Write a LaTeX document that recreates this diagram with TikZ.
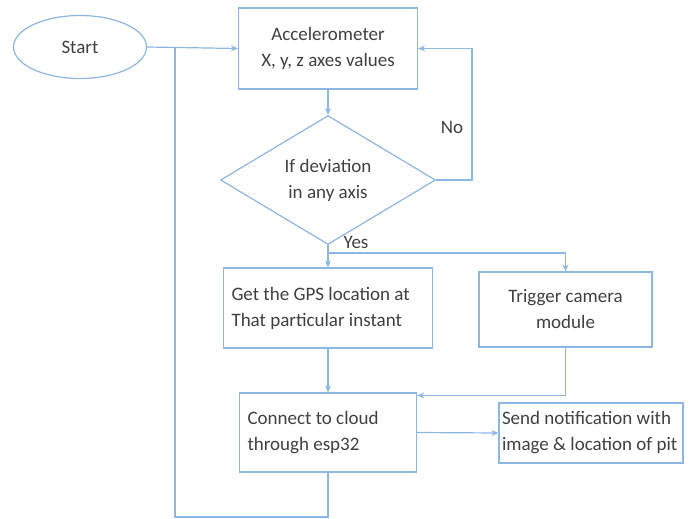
\documentclass[tikz,border=0pt]{standalone}
\usepackage{fontspec}
\setmainfont{Carlito}
\usetikzlibrary{shapes.geometric,arrows.meta}
\definecolor{lineblue}{HTML}{8DB6E2}
\definecolor{txt}{HTML}{404040}
\begin{document}
\begin{tikzpicture}[x=1pt,y=-1pt,
  every node/.style={font=\fontsize{19}{26}\selectfont, text=txt},
  box/.style={draw=lineblue, line width=1.2pt, rectangle, inner sep=0pt},
  arr/.style={draw=lineblue, line width=1.2pt, -{Stealth[length=7pt,width=6pt]}},
  ln/.style={draw=lineblue, line width=1.2pt}]
\useasboundingbox (0,0) rectangle (693,519);
\node[draw=lineblue, line width=1.2pt, ellipse, minimum width=133pt, minimum height=63pt, inner sep=0pt] (start) at (80,47) {Start};
\node[box, minimum width=179pt, minimum height=81pt, align=center] (acc) at (328,48.5) {Accelerometer\\X, y, z axes values};
\node[draw=lineblue, line width=1.2pt, diamond, minimum width=215pt, minimum height=100pt, inner sep=0pt, align=center] (dec) at (328,180) {If deviation\\in any axis};
\node[box, minimum width=209pt, minimum height=80pt, text width=193pt, align=flush left] (gps) at (328,308) {Get the GPS location at\\That particular instant};
\node[box, minimum width=173pt, minimum height=75pt, align=center] (cam) at (565.5,309.5) {Trigger camera\\module};
\node[box, minimum width=177pt, minimum height=79pt, text width=161pt, align=flush left] (cloud) at (328,432.5) {Connect to cloud\\through esp32};
\node[box, minimum width=184pt, minimum height=60pt, inner xsep=3pt, text width=178pt, align=flush left] (notif) at (591,433) {Send notification with\\image \& location of pit};
\coordinate (noR) at (472,180);
\coordinate (yesj) at (328,253);
\coordinate (lp) at (175,517);
\coordinate (lj) at (175,48);
\node (no) at (452,127) {No};
\node (yes) at (356,242) {Yes};
\draw[arr] (start.east) -- (acc.west);
\draw[ln] (cloud.south) |- (lp) -- (lj);
\draw[arr] (acc.south) -- (dec.north);
\draw[arr] (dec.east) -- (noR) |- (acc.east);
\draw[ln] (dec.south) -- (yesj);
\draw[arr] (yesj) -- (gps.north);
\draw[arr] (yesj) -| (cam.north);
\draw[arr] (gps.south) -- (cloud.north);
\draw[arr] (cam.south) |- ([yshift=-3pt]cloud.north east);
\draw[arr] (cloud.east) -- (notif.west);
\end{tikzpicture}
\end{document}
